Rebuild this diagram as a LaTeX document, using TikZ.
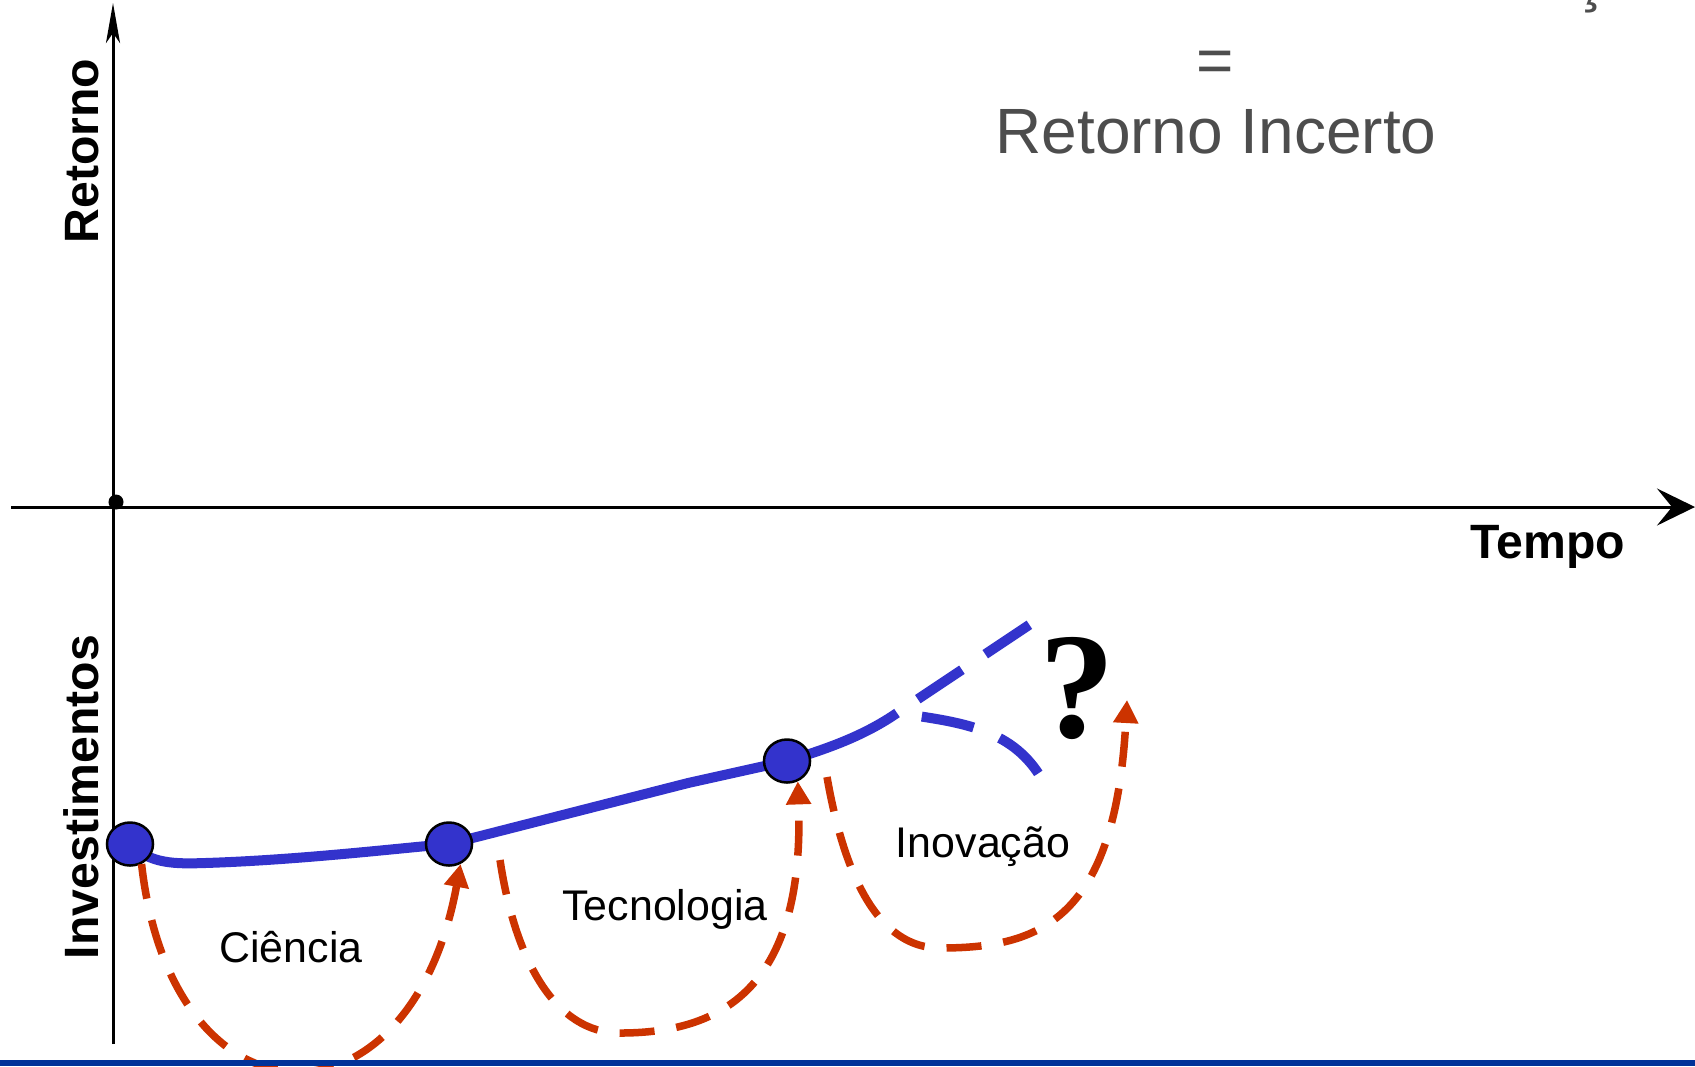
\documentclass[tikz,border=0pt]{standalone}
\usepackage{fontspec}
\setmainfont{Liberation Sans}
\newfontfamily\qmarkfont{Liberation Serif}
\usepackage{xcolor}
\usepackage{tikz}
\usetikzlibrary{shapes,arrows.meta,positioning,calc,backgrounds}
\definecolor{curveblue}{RGB}{51, 51, 204}
\definecolor{loopred}{RGB}{204, 51, 0}
\definecolor{textgray}{RGB}{77, 77, 77}
\definecolor{barblue}{RGB}{0, 51, 153}

\begin{document}
\begin{tikzpicture}[x=0.01cm, y=-0.01cm,
    stagedot/.style={ellipse, draw=black, line width=0.025cm, fill=curveblue, minimum width=0.46cm, minimum height=0.43cm, inner sep=0pt},
    phaseloop/.style={draw=loopred, line width=0.075cm, dash pattern=on 0.35cm off 0.22cm, -{Triangle[width=0.24cm, length=0.23cm]}},
    forkdash/.style={curveblue, line width=0.10cm, dash pattern=on 0.53cm off 0.28cm, dash phase=0.56cm},
    axislabel/.style={font=\fontsize{13.7}{13.7}\selectfont\bfseries, anchor=base},
    phaselabel/.style={font=\fontsize{12.2}{12.2}\selectfont, anchor=base},
    headline/.style={font=\fontsize{18.2}{18.2}\selectfont, text=textgray, anchor=base}]
    \useasboundingbox (0,0) rectangle (1695,1066);

    % axes
    \coordinate (ybot) at (113,1044);
    \coordinate (ytop) at (113,3);
    \coordinate (xleft) at (11,507);
    \coordinate (xright) at (1695,507);
    \draw [line width=0.03cm, -{Stealth[length=0.40cm, width=0.14cm, inset=0.1cm]}] (ybot) -- (ytop);
    \draw [line width=0.03cm, -{Stealth[length=0.38cm, width=0.37cm, inset=0.15cm]}] (xleft) -- (xright);
    \node [circle, fill=black, inner sep=0pt, minimum size=0.15cm] (origin) at (116,502) {};

    \node [axislabel, rotate=90] (retorno) at (98,151) {Retorno};
    \node [axislabel, rotate=90] (invest) at (98,797) {Investimentos};
    \node [axislabel] (tempo) at (1548,558) {Tempo};

    % headline
    \node [headline] (cedilla) at (1589,-1) {ç};
    \node [headline] (equals) at (1215,82) {=};
    \node [headline] (incerto) at (1216,153) {Retorno Incerto};

    % stages on the investment curve
    \node [stagedot] (p1) at (130,844) {};
    \node [stagedot] (p2) at (449,844) {};
    \node [stagedot] (p3) at (787,761) {};
    \coordinate (fork) at (897,713);
    \coordinate (upEnd) at (1032,623);
    \coordinate (lowEnd) at (1040,776);

    \begin{scope}[on background layer]
        \draw [curveblue, line width=0.10cm] (p1.center) .. controls (150,864) and (175,864) .. (205,863)
            .. controls (300,860) and (400,848) .. (p2.center) -- (688,783) -- (p3.center)
            .. controls (830,748) and (865,735) .. (fork);
        \draw [forkdash] (fork) -- (upEnd);
        \draw [forkdash] (fork) .. controls (960,722) and (1010,728) .. (lowEnd);
    \end{scope}

    \node [font={\qmarkfont\fontsize{43}{43}\selectfont\bfseries}, anchor=base] (qmark) at (1077,737) {?};

    % dashed loops
    \coordinate (tecStart) at (500,860);
    \coordinate (inovStart) at (827,777);
    \coordinate (inovEnd) at (1127,700);
    \draw [phaseloop] (p1.-60) .. controls (172,1135) and (410,1140) .. (p2.-60);
    \draw [phaseloop] (tecStart) .. controls (515,960) and (555,1033) .. (620,1033)
        .. controls (720,1033) and (805,990) .. (p3.-62);
    \draw [phaseloop] (inovStart) .. controls (845,880) and (880,948) .. (940,948)
        .. controls (1040,948) and (1115,920) .. (inovEnd);

    \node [phaselabel] (ciencia) at (291,962) {Ciência};
    \node [phaselabel] (tecnologia) at (665,920) {Tecnologia};
    \node [phaselabel] (inovacao) at (983,857) {Inovação};

    \fill [barblue] (0,1060) rectangle (1695,1066);
\end{tikzpicture}
\end{document}
